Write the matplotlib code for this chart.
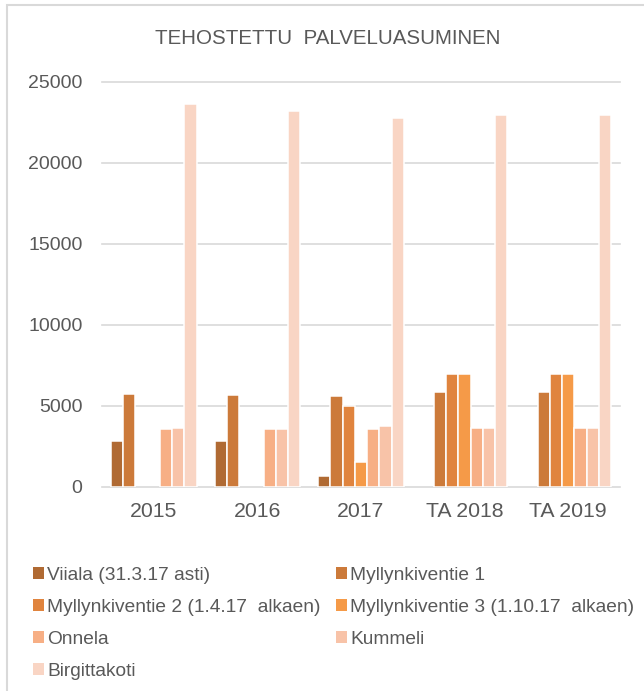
import numpy as np
import matplotlib
matplotlib.use("Agg")
import matplotlib.pyplot as plt
from matplotlib.patches import Rectangle, Patch

plt.rcParams['font.family'] = ['Liberation Sans', 'DejaVu Sans']

categories = ["2015", "2016", "2017", "TA 2018", "TA 2019"]
series_names = ["Viiala (31.3.17 asti)", "Myllynkiventie 1",
                "Myllynkiventie 2 (1.4.17  alkaen)", "Myllynkiventie 3 (1.10.17  alkaen)",
                "Onnela", "Kummeli", "Birgittakoti"]
viiala = [2800, 2800, 680, np.nan, np.nan]
myllyn1 = [5750, 5650, 5580, 5820, 5820]
myllyn2 = [np.nan, np.nan, 4960, 6950, 6950]
myllyn3 = [np.nan, np.nan, 1540, 6950, 6950]
onnela = [3540, 3540, 3540, 3620, 3620]
kummeli = [3620, 3540, 3760, 3620, 3620]
birgitta = [23650, 23170, 22760, 22950, 22950]
values = [viiala, myllyn1, myllyn2, myllyn3, onnela, kummeli, birgitta]
colors = ["#B06A33", "#CC7A3A", "#E0843E", "#F59A48", "#F7AF85", "#F8C3A8", "#F9D5C4"]
title = "TEHOSTETTU  PALVELUASUMINEN"
yticks = [0, 5000, 10000, 15000, 20000, 25000]

W, H = 644, 691
fig = plt.figure(figsize=(W / 100, H / 100), dpi=100)
ax = fig.add_axes([102 / W, 1 - 486.7 / H, (620 - 102) / W, (486.7 - 81.7) / H])

gray = "#595959"
x = np.arange(len(categories))
slot = 0.1178
n = len(values)
for i, (vals, c) in enumerate(zip(values, colors)):
    ax.bar(x + (i - (n - 1) / 2) * slot, vals, width=slot, color=c,
           edgecolor="white", linewidth=1.1, zorder=3)

ax.set_xlim(-0.5, len(categories) - 0.5)
ax.set_ylim(0, 25000)
ax.set_yticks(yticks)
ax.set_xticks(x)
ax.set_xticklabels(categories)
ax.tick_params(axis='y', length=0, pad=14, labelsize=14, labelcolor=gray)
ax.tick_params(axis='x', length=0, pad=11, labelsize=15.3, labelcolor=gray)
for s in ax.spines.values():
    s.set_visible(False)
ax.grid(axis='y', color="#D9D9D9", linewidth=1.2, zorder=0)
ax.set_axisbelow(True)
for gl in ax.get_ygridlines():
    gl.set_clip_on(False)

fig.text(327.5 / W, 1 - 38 / H, title, ha='center', va='center',
         fontsize=14.8, color=gray)

handles = [Patch(facecolor=c, edgecolor='none') for c in colors]
colA = [0, 2, 4, 6]
colB = [1, 3, 5]
for idxs, xp in ((colA, 33), (colB, 336)):
    fig.legend([handles[i] for i in idxs], [series_names[i] for i in idxs],
               loc='upper left', bbox_to_anchor=(xp / W, 1 - 567 / H),
               frameon=False, fontsize=13.8, labelcolor=gray,
               handlelength=0.55, handleheight=0.55, handletextpad=0.2,
               labelspacing=0.78, borderaxespad=0, borderpad=0)

fig.patches.append(Rectangle((7, -20), W + 20, H - 5 + 20, transform=None, fill=False,
                             edgecolor="#D9D9D9", linewidth=1.5))

fig.savefig("out.png", dpi=100)
